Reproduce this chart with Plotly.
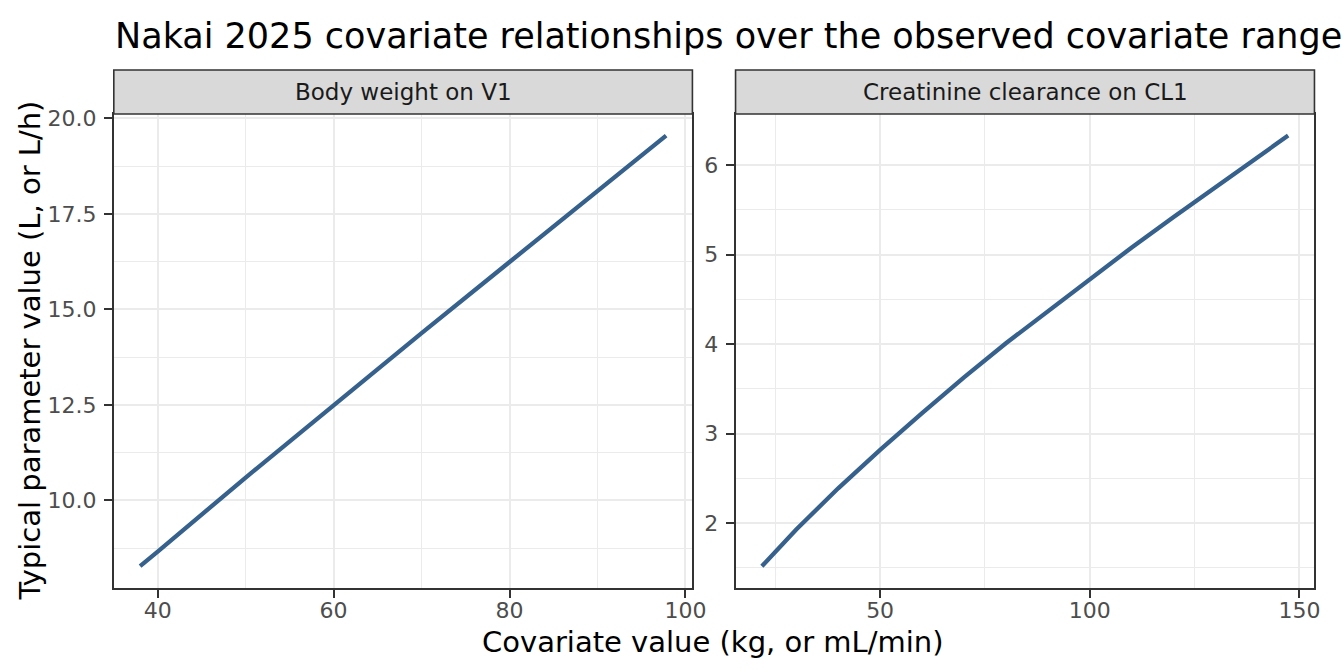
import plotly.graph_objects as go

# values
weight_kg = [38, 40, 50, 60, 70, 80, 90, 97.8]
v1_litre = [8.28, 8.66, 10.60, 12.50, 14.38, 16.24, 18.08, 19.55]

crcl_ml_min = [21.8, 30, 40, 50, 60, 70, 80, 90, 100, 110, 120, 130, 140, 147.3]
cl1_l_h = [1.52, 1.93, 2.39, 2.82, 3.23, 3.63, 4.01, 4.37, 4.73, 5.08, 5.42, 5.75, 6.08, 6.33]

panel_titles = ["Body weight on V1", "Creatinine clearance on CL1"]

left_xticks = [40, 60, 80, 100]
left_xminor = [50, 70, 90]
left_yticks = [10.0, 12.5, 15.0, 17.5, 20.0]
left_yminor = [8.75, 11.25, 13.75, 16.25, 18.75]
right_xticks = [50, 100, 150]
right_xminor = [25, 75, 125]
right_yticks = [2, 3, 4, 5, 6]
right_yminor = [1.5, 2.5, 3.5, 4.5, 5.5]

W, H = 1344, 672
LINE = "#36618C"
GRID = "#EBEBEB"
BORDER = "#333333"
FONT = "DejaVu Sans"


def expand(vals, frac=0.05):
    lo, hi = min(vals), max(vals)
    pad = (hi - lo) * frac
    return [lo - pad, hi + pad]


def px_x(p):
    return p / W


def px_y(p):
    return 1 - p / H


fig = go.Figure()
fig.add_trace(go.Scatter(x=weight_kg, y=v1_litre, mode="lines",
                         line=dict(color=LINE, width=4.3), xaxis="x", yaxis="y",
                         showlegend=False))
fig.add_trace(go.Scatter(x=crcl_ml_min, y=cl1_l_h, mode="lines",
                         line=dict(color=LINE, width=4.3), xaxis="x2", yaxis="y2",
                         showlegend=False))

tickfont = dict(family=FONT, size=22, color="#4D4D4D")
common = dict(showline=True, mirror=True, linecolor=BORDER, linewidth=1.6,
              ticks="outside", ticklen=8, tickcolor=BORDER, tickwidth=1.8,
              showgrid=True, gridcolor=GRID, gridwidth=2.3, zeroline=False,
              tickfont=tickfont)
xcommon = dict(ticklabelstandoff=-6, **common)
ycommon = dict(ticklabelstandoff=3, **common)
minor = dict(showgrid=True, gridcolor=GRID, gridwidth=1.2)

left_dom = [px_x(115), px_x(699.7)]
right_dom = [px_x(743.3), px_x(1328.3)]
y_dom = [px_y(586.7), px_y(107.3)]

fig.update_layout(
    width=W, height=H,
    margin=dict(l=0, r=0, t=0, b=0),
    paper_bgcolor="white", plot_bgcolor="white",
    xaxis=dict(domain=left_dom, range=expand(weight_kg), tickvals=left_xticks,
               minor=dict(tickvals=left_xminor, **minor), anchor="y", **xcommon),
    yaxis=dict(domain=y_dom, range=expand(v1_litre), tickvals=left_yticks, tickformat=".1f",
               minor=dict(tickvals=left_yminor, **minor), anchor="x", **ycommon),
    xaxis2=dict(domain=right_dom, range=expand(crcl_ml_min), tickvals=right_xticks,
                minor=dict(tickvals=right_xminor, **minor), anchor="y2", **xcommon),
    yaxis2=dict(domain=y_dom, range=expand(cl1_l_h), tickvals=right_yticks,
                minor=dict(tickvals=right_yminor, **minor), anchor="x2", **ycommon),
)

# facet strips
for dom, label in zip([left_dom, right_dom], panel_titles):
    fig.add_shape(type="rect", xref="paper", yref="paper",
                  x0=dom[0], x1=dom[1], y0=px_y(107.3), y1=px_y(62.7),
                  fillcolor="#D9D9D9", line=dict(color=BORDER, width=1.6))
    fig.add_annotation(x=(dom[0] + dom[1]) / 2, y=px_y(85), xref="paper", yref="paper",
                       text=label, showarrow=False, xanchor="center", yanchor="middle",
                       font=dict(family=FONT, size=23, color="#1A1A1A"))

fig.add_annotation(x=px_x(114), y=px_y(28), xref="paper", yref="paper",
                   text="Nakai 2025 covariate relationships over the observed covariate range",
                   showarrow=False, xanchor="left", yanchor="middle",
                   font=dict(family=FONT, size=35, color="black"))
fig.add_annotation(x=px_x(720), y=px_y(642), xref="paper", yref="paper",
                   text="Covariate value (kg, or mL/min)", showarrow=False,
                   xanchor="center", yanchor="middle",
                   font=dict(family=FONT, size=29, color="black"))
fig.add_annotation(x=px_x(30), y=px_y(347), xref="paper", yref="paper",
                   text="Typical parameter value (L, or L/h)", showarrow=False, textangle=-90,
                   xanchor="center", yanchor="middle",
                   font=dict(family=FONT, size=29, color="black"))

# drop the default page margin so the figure fills the window exactly
fig.write_html("out.html", config={"displayModeBar": False},
               post_script="document.body.style.margin='0';document.body.style.overflow='hidden';")
